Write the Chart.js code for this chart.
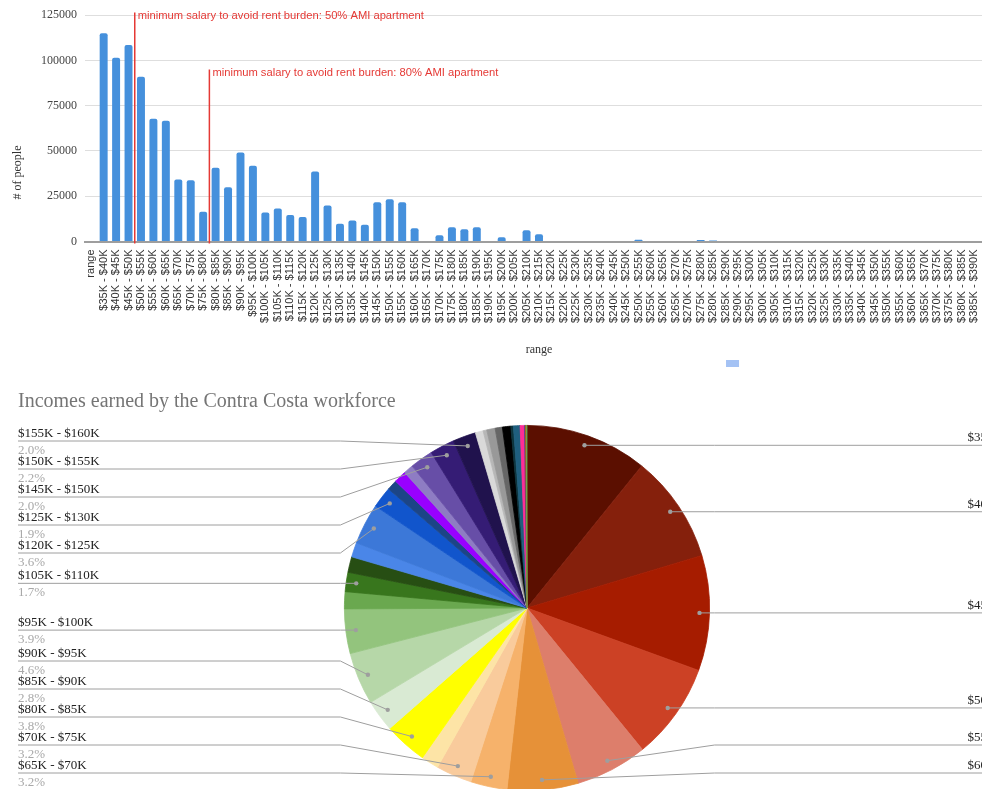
<!DOCTYPE html>
<html>
<head>
<meta charset="utf-8">
<title>Contra Costa incomes</title>
<script src="https://cdn.jsdelivr.net/npm/chart.js@4.4.1/dist/chart.umd.min.js"></script>
<style>
  html, body { margin: 0; padding: 0; background: #fff; overflow: hidden; width: 982px; height: 789px; }
  #barChart { position: absolute; left: 0; top: 0; }
  #pieChart { position: absolute; left: 0; top: 380px; }
</style>
</head>
<body>
<canvas id="barChart" width="1000" height="375"></canvas>
<canvas id="pieChart" width="1054" height="430"></canvas>
<script>
// income ranges (the sheet's header cell "range" ended up as the first category)
const rangeLabels = [
  'range',
  '$35K - $40K', '$40K - $45K', '$45K - $50K', '$50K - $55K', '$55K - $60K', '$60K - $65K',
  '$65K - $70K', '$70K - $75K', '$75K - $80K', '$80K - $85K', '$85K - $90K', '$90K - $95K',
  '$95K - $100K', '$100K - $105K', '$105K - $110K', '$110K - $115K', '$115K - $120K', '$120K - $125K',
  '$125K - $130K', '$130K - $135K', '$135K - $140K', '$140K - $145K', '$145K - $150K', '$150K - $155K',
  '$155K - $160K', '$160K - $165K', '$165K - $170K', '$170K - $175K', '$175K - $180K', '$180K - $185K',
  '$185K - $190K', '$190K - $195K', '$195K - $200K', '$200K - $205K', '$205K - $210K', '$210K - $215K',
  '$215K - $220K', '$220K - $225K', '$225K - $230K', '$230K - $235K', '$235K - $240K', '$240K - $245K',
  '$245K - $250K', '$250K - $255K', '$255K - $260K', '$260K - $265K', '$265K - $270K', '$270K - $275K',
  '$275K - $280K', '$280K - $285K', '$285K - $290K', '$290K - $295K', '$295K - $300K', '$300K - $305K',
  '$305K - $310K', '$310K - $315K', '$315K - $320K', '$320K - $325K', '$325K - $330K', '$330K - $335K',
  '$335K - $340K', '$340K - $345K', '$345K - $350K', '$350K - $355K', '$355K - $360K', '$360K - $365K',
  '$365K - $370K', '$370K - $375K', '$375K - $380K', '$380K - $385K', '$385K - $390K', '$390K - $395K'
];

// # of people in each range
const peopleCounts = [
  0,
  115000, 101500, 108500, 91000, 67800, 66700,
  34300, 33800, 16500, 40800, 30000, 49200,
  41900, 16000, 18200, 14700, 13600, 38600,
  19900, 9750, 11600, 9200, 21700, 23300,
  21700, 7350, 0, 3500, 7900, 6800,
  7900, 0, 2400, 0, 6250, 4000,
  0, 0, 0, 0, 0, 0,
  0, 1000, 0, 0, 0, 0,
  800, 600, 0, 0, 0, 0,
  0, 0, 0, 0, 0, 0,
  0, 0, 0, 0, 0, 0,
  0, 0, 0, 0, 0, 0
];

// slice colours of the pie, same order as the ranges
const sliceColors = [
  '#cccccc',
  '#5b0f00', '#85200c', '#a61c00', '#cc4125', '#dd7e6b', '#e69138',
  '#f6b26b', '#f9cb9c', '#fde4a6', '#ffff00', '#d9ead3', '#b6d7a8',
  '#93c47d', '#6aa84f', '#38761d', '#274e13', '#4a86e8', '#3c78d8',
  '#1155cc', '#1c4587', '#9900ff', '#8e7cc3', '#674ea7', '#351c75',
  '#20124d', '#d9d9d9', '#cccccc', '#b7b7b7', '#999999', '#666666',
  '#000000', '#0c343d', '#0c343d', '#134f5c', '#1f5f7f', '#ff2d95',
  '#cccccc', '#cccccc', '#cccccc', '#cccccc', '#cccccc', '#cccccc',
  '#cccccc', '#5b3f8f', '#cccccc', '#cccccc', '#cccccc', '#cccccc',
  '#b45f06', '#6aa84f', '#cccccc', '#cccccc', '#cccccc', '#cccccc',
  '#cccccc', '#cccccc', '#cccccc', '#cccccc', '#cccccc', '#cccccc',
  '#cccccc', '#cccccc', '#cccccc', '#cccccc', '#cccccc', '#cccccc',
  '#cccccc', '#cccccc', '#cccccc', '#cccccc', '#cccccc', '#cccccc'
];

// red reference lines: drawn between the given range and the next one
const rentLines = [
  { after: '$45K - $50K', topValue: 126500, text: 'minimum salary to avoid rent burden: 50% AMI apartment' },
  { after: '$75K - $80K', topValue: 95000, text: 'minimum salary to avoid rent burden: 80% AMI apartment' }
];

const yTicks = [0, 25000, 50000, 75000, 100000, 125000];

const serif = "'Liberation Serif', 'Times New Roman', serif";

// extras for the bar chart: y title, rent lines, legend swatch
const barExtras = {
  id: 'barExtras',
  afterDraw(chart) {
    const { ctx, chartArea } = chart;
    const xs = chart.scales.x, ys = chart.scales.y;
    ctx.save();

    // axis title on the left
    ctx.translate(18, chart.height * 0.46);
    ctx.rotate(-Math.PI / 2);
    ctx.font = '12px ' + serif;
    ctx.fillStyle = '#333';
    ctx.textAlign = 'center';
    ctx.textBaseline = 'middle';
    ctx.fillText('# of people', 0, 0);
    ctx.setTransform(1, 0, 0, 1, 0, 0);

    // rent burden lines
    rentLines.forEach(r => {
      const i = rangeLabels.indexOf(r.after);
      const x = (xs.getPixelForValue(i) + xs.getPixelForValue(i + 1)) / 2;
      const top = ys.getPixelForValue(r.topValue);
      ctx.strokeStyle = '#e53935';
      ctx.lineWidth = 1.5;
      ctx.beginPath();
      ctx.moveTo(x, top);
      ctx.lineTo(x, chartArea.bottom + 2);
      ctx.stroke();
      ctx.font = "11.2px 'Liberation Sans', Arial, sans-serif";
      ctx.fillStyle = '#e53935';
      ctx.textAlign = 'left';
      ctx.textBaseline = 'middle';
      ctx.fillText(r.text, x + 3, top + 3);
    });

    // legend swatch (series has no name)
    ctx.fillStyle = '#a4c2f4';
    ctx.fillRect(chartArea.left + chartArea.width * 0.706, chart.height - 15, 13, 7);
    ctx.restore();
  }
};

new Chart(document.getElementById('barChart').getContext('2d'), {
  type: 'bar',
  data: {
    labels: rangeLabels,
    datasets: [{
      label: '',
      data: peopleCounts,
      backgroundColor: '#4590dc',
      barPercentage: 0.64,
      categoryPercentage: 1.0,
      borderRadius: { topLeft: 2, topRight: 2 },
      borderSkipped: 'bottom'
    }]
  },
  options: {
    responsive: false,
    animation: false,
    layout: { padding: { top: 15, left: 24, right: 6, bottom: 0 } },
    plugins: { legend: { display: false }, tooltip: { enabled: false } },
    scales: {
      y: {
        min: 0,
        max: 125000,
        afterBuildTicks: s => { s.ticks = yTicks.map(v => ({ value: v })); },
        afterFit: s => { s.width = 61; },
        ticks: { font: { family: serif, size: 12 }, color: '#444', padding: 8, callback: v => String(v) },
        grid: { color: '#dedede', drawTicks: false },
        border: { display: false }
      },
      x: {
        afterFit: s => { s.height = 133.5; },
        grid: { display: false },
        border: { display: true, color: '#9e9e9e', width: 2 },
        ticks: {
          autoSkip: false, minRotation: 90, maxRotation: 90,
          font: { family: "'Liberation Sans', Arial, sans-serif", size: 11 },
          color: '#333', padding: 0
        },
        title: {
          display: true, text: 'range',
          font: { family: serif, size: 12 }, color: '#333',
          padding: { top: 0, bottom: 18 }
        }
      }
    }
  },
  plugins: [barExtras]
});

// group overlapping labels around the mean of their anchors
function placeLabels(items, minY, maxY, gap) {
  items.sort((a, b) => a.target - b.target);
  const groups = items.map(it => ({ members: [it], y0: it.target }));
  const settle = g => {
    const mean = g.members.reduce((s, m) => s + m.target, 0) / g.members.length;
    const span = (g.members.length - 1) * gap;
    g.y0 = Math.max(minY, Math.min(mean - span / 2, maxY - span));
  };
  groups.forEach(settle);
  let merged = true;
  while (merged) {
    merged = false;
    for (let i = 0; i < groups.length - 1; i++) {
      const a = groups[i], b = groups[i + 1];
      const aEnd = a.y0 + (a.members.length - 1) * gap;
      if (b.y0 - aEnd < gap) {
        a.members = a.members.concat(b.members);
        groups.splice(i + 1, 1);
        settle(a);
        merged = true;
        break;
      }
    }
  }
  groups.forEach(g => g.members.forEach((m, k) => { m.y = g.y0 + k * gap; }));
}

const total = peopleCounts.reduce((s, v) => s + v, 0);

// leader-line labels for the pie
const pieLabels = {
  id: 'pieLabels',
  afterDraw(chart) {
    const { ctx, chartArea } = chart;
    const arcs = chart.getDatasetMeta(0).data;
    const left = [], right = [];
    let cx = 0, cy = 0, r = 0;
    arcs.forEach((arc, i) => {
      const p = arc.getProps(['x', 'y', 'startAngle', 'endAngle', 'outerRadius'], true);
      cx = p.x; cy = p.y; r = p.outerRadius;
      const pct = peopleCounts[i] / total * 100;
      if (pct < 1.6) return;
      const mid = (p.startAngle + p.endAngle) / 2;
      const ax = p.x + Math.cos(mid) * r * 0.945;
      const ay = p.y + Math.sin(mid) * r * 0.945;
      const item = { name: rangeLabels[i], pct: pct.toFixed(1) + '%', ax, ay, target: ay };
      (Math.cos(mid) >= 0 ? right : left).push(item);
    });
    const minY = chartArea.top + 16, maxY = chartArea.bottom - 18;
    placeLabels(left, minY, maxY, 28);
    placeLabels(right, minY, maxY, 28);

    ctx.save();
    const drawOne = (it, side) => {
      const elbowX = side === 'left' ? cx - r - 4 : cx + r + 5;
      const endX = side === 'left' ? chartArea.left : chartArea.right;
      ctx.strokeStyle = '#9e9e9e';
      ctx.lineWidth = 1;
      ctx.beginPath();
      ctx.moveTo(endX, it.y);
      ctx.lineTo(elbowX, it.y);
      ctx.lineTo(it.ax, it.ay);
      ctx.stroke();
      ctx.fillStyle = '#9e9e9e';
      ctx.beginPath();
      ctx.arc(it.ax, it.ay, 2.2, 0, Math.PI * 2);
      ctx.fill();
      ctx.textAlign = side === 'left' ? 'left' : 'right';
      ctx.font = '13px ' + serif;
      ctx.fillStyle = '#222';
      ctx.textBaseline = 'alphabetic';
      ctx.fillText(it.name, endX, it.y - 4);
      ctx.fillStyle = '#a8a8a8';
      ctx.textBaseline = 'top';
      ctx.fillText(it.pct, endX, it.y + 3);
    };
    left.forEach(it => drawOne(it, 'left'));
    right.forEach(it => drawOne(it, 'right'));
    ctx.restore();
  }
};

new Chart(document.getElementById('pieChart').getContext('2d'), {
  type: 'pie',
  data: {
    labels: rangeLabels,
    datasets: [{
      data: peopleCounts,
      backgroundColor: sliceColors,
      borderColor: sliceColors,
      borderWidth: 0.8
    }]
  },
  options: {
    responsive: false,
    animation: false,
    layout: { padding: { left: 18, right: 18, top: 0, bottom: 19 } },
    plugins: {
      legend: { display: false },
      tooltip: { enabled: false },
      title: {
        display: true,
        text: 'Incomes earned by the Contra Costa workforce',
        align: 'start',
        color: '#757575',
        font: { family: serif, size: 20, weight: 'normal' },
        padding: { top: 10, bottom: 11 }
      }
    }
  },
  plugins: [pieLabels]
});
</script>
</body>
</html>
